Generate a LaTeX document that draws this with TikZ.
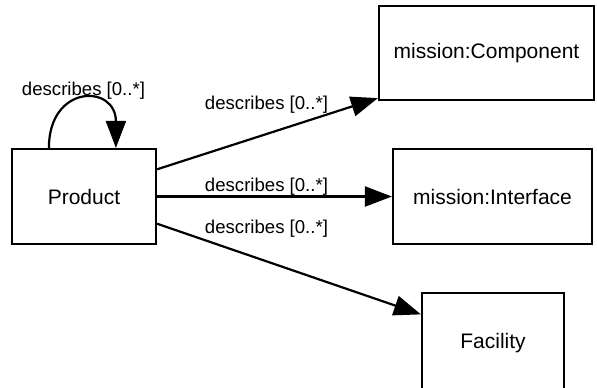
\documentclass[tikz,border=0pt]{standalone}
\usepackage{fontspec}
\setmainfont{Liberation Sans}
\usetikzlibrary{arrows.meta,calc}
\begin{document}
\begin{tikzpicture}[x=0.5pt,y=-0.5pt,
  cls/.style={draw=black,line width=1.1pt,fill=white,inner sep=0pt,font=\fontsize{10.5}{12}\selectfont},
  rel/.style={line width=1.1pt,-{Triangle[length=13.5pt,width=10pt]}},
  lbl/.style={anchor=base,inner sep=0pt,font=\fontsize{9.3}{11}\selectfont}]
\clip (0,0) rectangle (597,387);
\fill[white] (0,0) rectangle (597,387);
\node[cls,minimum width=72pt,minimum height=47.5pt] (P) at (84,196.5) {Product};
\node[cls,minimum width=107.5pt,minimum height=47pt] (C) at (486.5,53) {mission:Component};
\node[cls,minimum width=99.5pt,minimum height=47.5pt] (I) at (492.5,196.5) {mission:Interface};
\node[cls,minimum width=71pt,minimum height=50pt] (F) at (493,343) {\raisebox{1.5pt}{Facility}};
\draw[rel] ($(P.north west)+(38,0)$) .. controls ($(P.north west)+(38,-64)$) and ($(P.north west)+(105,-64)$) .. ($(P.north west)+(105,0)$);
\draw[rel] ($(P.north east)!0.22!(P.south east)$) -- ($(C.south west)+(0,-3)$);
\draw[rel] (P.east) -- (I.west);
\draw[rel] ($(P.north east)!0.78!(P.south east)$) -- ($(F.north west)!0.22!(F.south west)$);
\node[lbl] (L0) at (83.5,95.7) {describes [0..*]};
\node[lbl] (L1) at (266.5,109) {describes [0..*]};
\node[lbl] (L2) at (266.5,191.7) {describes [0..*]};
\node[lbl] (L3) at (266.5,233) {describes [0..*]};
\end{tikzpicture}
\end{document}
